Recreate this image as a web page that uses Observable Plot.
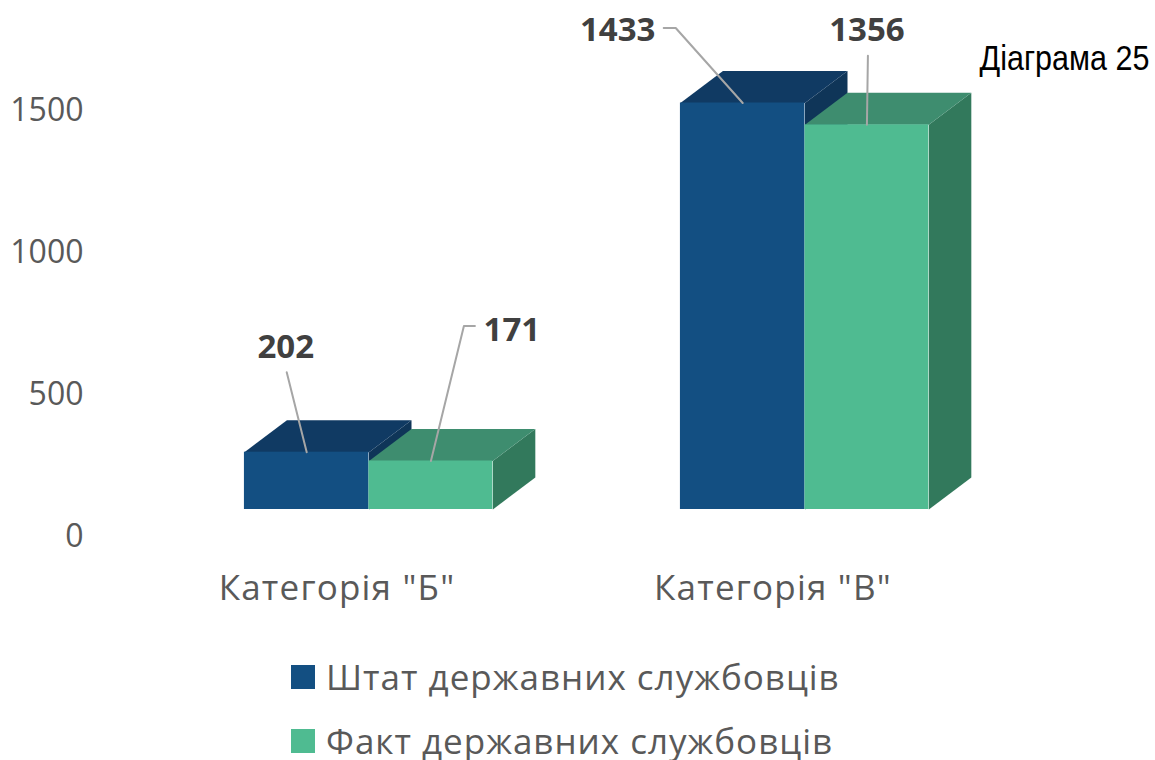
<!DOCTYPE html>
<html lang="uk">
<head>
<meta charset="utf-8">
<script src="https://cdn.jsdelivr.net/npm/d3@7"></script>
<script src="https://cdn.jsdelivr.net/npm/@observablehq/plot@0.6"></script>
<style>
  html, body { margin: 0; padding: 0; background: #fff; overflow: hidden; }
  svg { display: block; }
  .legend { position: relative; height: 100px; font-family: "Open Sans", sans-serif; font-size: 35px; line-height: 34px; letter-spacing: 1px; color: #595959; }
  .row { position: absolute; left: 291px; display: flex; align-items: center; height: 34px; white-space: nowrap; }
  .row i { display: block; width: 24px; height: 24px; margin-right: 11px; }
  .xaxis text { letter-spacing: 1.2px; }
</style>
</head>
<body>
<div id="chart"></div>
<div class="legend" id="legend"></div>
<script>
const categories = ['Категорія "Б"', 'Категорія "В"'];
const seriesNames = ["Штат державних службовців", "Факт державних службовців"];
const staffValues = [202, 1433];
const actualValues = [171, 1356];
const yTicks = [0, 500, 1000, 1500];

const caption = "Діаграма 25";
const categoryCenters = [1, 4.5];
const seriesColors = [
  {front: "#134f82", top: "#103a63", side: "#0f3558"},
  {front: "#4fbb91", top: "#3e8d6f", side: "#32795c"}
];

// Scales: one x unit is one bar width.
const xDomain = [1, 4.5], xRange = [368.5, 804.5];
const yDomain = [0, 1500], yRange = [509, 83.5];
const unitX = (xRange[1] - xRange[0]) / (xDomain[1] - xDomain[0]);
const unitY = (yRange[0] - yRange[1]) / (yDomain[1] - yDomain[0]);
const depthX = 42.5 / unitX, depthY = 32 / unitY;

const bars = [];
categories.forEach((c, i) => {
  bars.push({category: c, series: 0, x1: categoryCenters[i] - 1, x2: categoryCenters[i], value: staffValues[i]});
  bars.push({category: c, series: 1, x1: categoryCenters[i], x2: categoryCenters[i] + 1 - 0.006, value: actualValues[i]});
});

// Label placement, as pixel offsets from the top centre of each bar's front face.
const labelOffsets = [
  {dx: -21, dy: -105, leader: [[0, 0], [-20, -80]]},
  {dx: 81, dy: -131, leader: [[0, 0], [33, -135], [44, -135]]},
  {dx: -125, dy: -73, leader: [[0, 0], [-67, -75], [-79, -75]]},
  {dx: 0, dy: -94, leader: [[0, 0], [1, -69]]}
];

const marks = [];
bars.forEach(b => {
  const c = seriesColors[b.series];
  const dv = b.value;
  marks.push(Plot.line(
    [{x: b.x2, y: 0}, {x: b.x2 + depthX, y: depthY}, {x: b.x2 + depthX, y: dv + depthY}, {x: b.x2, y: dv}],
    {x: "x", y: "y", fill: c.side, stroke: "none"}));
  marks.push(Plot.line(
    [{x: b.x1, y: dv}, {x: b.x2, y: dv}, {x: b.x2 + depthX, y: dv + depthY}, {x: b.x1 + depthX, y: dv + depthY}],
    {x: "x", y: "y", fill: c.top, stroke: "none"}));
  marks.push(Plot.rect([b], {x1: "x1", x2: "x2", y1: 0, y2: "value", fill: c.front, inset: 0}));
});

bars.forEach((b, i) => {
  const o = labelOffsets[i];
  const cx = (b.x1 + b.x2) / 2;
  marks.push(Plot.line(o.leader.map(([px, py]) => ({x: cx + px / unitX, y: b.value - py / unitY})),
    {x: "x", y: "y", stroke: "#a6a6a6", strokeWidth: 2, fill: "none"}));
  marks.push(Plot.text([b], {
    x: () => cx, y: "value", text: d => String(d.value), dx: o.dx, dy: o.dy,
    fontFamily: "'Open Sans', sans-serif", fontWeight: 700, fontSize: 33, fill: "#404040"
  }));
});

marks.push(Plot.axisY({ticks: yTicks, tickFormat: d3.format("d"), tickSize: 0, tickPadding: 4, dy: 27, label: null,
  fontFamily: "'Open Sans', sans-serif", fontSize: 32, color: "#595959"}));
marks.push(Plot.axisX({ticks: categoryCenters, tickFormat: (d, i) => categories[i], tickSize: 0,
  tickPadding: 66, dx: -32, label: null, className: "xaxis",
  fontFamily: "'Open Sans', sans-serif", fontSize: 35, color: "#595959"}));

const plot = Plot.plot({
  width: 1155, height: 660,
  marginLeft: 87, marginRight: 0, marginTop: 0, marginBottom: 151,
  style: {background: "#fff", overflow: "visible"},
  x: {type: "linear", domain: xDomain, range: xRange},
  y: {type: "linear", domain: yDomain, range: yRange},
  marks: [
    ...marks,
    Plot.text([caption], {
      frameAnchor: "top-left", text: d => d, dx: 892, dy: 58, textAnchor: "start", lineAnchor: "middle",
      className: "caption-text", fontFamily: "'Liberation Sans', sans-serif", fontSize: 35, fill: "#000"
    })
  ]
});
document.getElementById("chart").append(plot);
// The caption is set in a condensed cut: narrow it to the reference's width.
d3.select(plot).selectAll(".caption-text text").each(function () {
  const natural = this.getComputedTextLength();
  const t = this.getAttribute("transform") || "";
  this.setAttribute("transform", `${t} scale(${170 / natural},1)`);
});

const legend = d3.select("#legend");
seriesNames.forEach((name, i) => {
  const row = legend.append("div").attr("class", "row").style("top", `${i * 64}px`);
  row.append("i").style("background", seriesColors[i].front);
  row.append("span").text(name);
});
</script>
</body>
</html>
